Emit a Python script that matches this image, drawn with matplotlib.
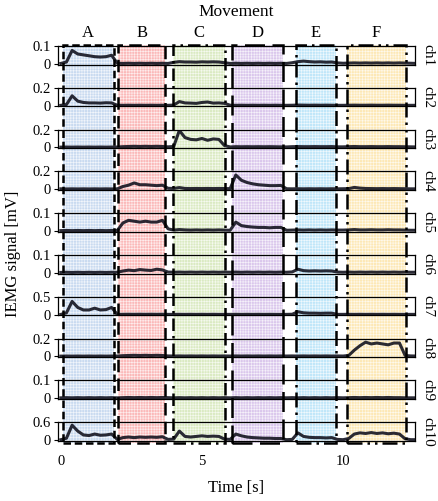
import numpy as np
import matplotlib.pyplot as plt
from matplotlib.patches import Rectangle
from matplotlib.transforms import blended_transform_factory

plt.rcParams['font.family'] = ['Liberation Serif', 'DejaVu Serif']
plt.rcParams['hatch.linewidth'] = 0.45

# sampling grid (s)
t = np.round(np.arange(64) * 0.2, 1)

# IEMG per channel (mV)
ch1 = [0.002, 0.01, 0.075, 0.055, 0.05, 0.045, 0.04, 0.038, 0.04, 0.048,
       0.003, 0.002, 0.003, 0.002, 0.003, 0.002, 0.003, 0.002, 0.003, 0.002,
       0.008, 0.012, 0.01, 0.01, 0.009, 0.011, 0.01, 0.011, 0.01, 0.006,
       0.002, 0.003, 0.002, 0.003, 0.002, 0.003, 0.002, 0.003, 0.002, 0.003,
       0.002, 0.006, 0.012, 0.015, 0.012, 0.01, 0.011, 0.009, 0.01, 0.005,
       0.003, 0.004, 0.005, 0.004, 0.005, 0.004, 0.005, 0.004, 0.005, 0.004,
       0.005, 0.004, 0.003, 0.002]
ch2 = [0.003, 0.012, 0.11, 0.05, 0.035, 0.03, 0.03, 0.028, 0.032, 0.03,
       0.004, 0.003, 0.004, 0.003, 0.004, 0.003, 0.004, 0.003, 0.004, 0.003,
       0.006, 0.045, 0.03, 0.028, 0.025, 0.035, 0.04, 0.028, 0.03, 0.025,
       0.004, 0.003, 0.004, 0.003, 0.004, 0.003, 0.004, 0.003, 0.004, 0.003,
       0.003, 0.004, 0.006, 0.005, 0.004, 0.005, 0.004, 0.005, 0.004, 0.003,
       0.003, 0.004, 0.005, 0.004, 0.004, 0.005, 0.004, 0.004, 0.005, 0.004,
       0.004, 0.003, 0.003, 0.003]
ch3 = [0.003, 0.004, 0.003, 0.004, 0.003, 0.004, 0.003, 0.004, 0.003, 0.004,
       0.004, 0.008, 0.01, 0.012, 0.01, 0.012, 0.01, 0.012, 0.01, 0.006,
       0.01, 0.19, 0.11, 0.09, 0.085, 0.1, 0.08, 0.095, 0.09, 0.02,
       0.005, 0.008, 0.007, 0.008, 0.007, 0.008, 0.007, 0.008, 0.007, 0.006,
       0.005, 0.008, 0.009, 0.008, 0.008, 0.009, 0.008, 0.008, 0.009, 0.006,
       0.006, 0.008, 0.01, 0.008, 0.008, 0.009, 0.008, 0.008, 0.009, 0.008,
       0.008, 0.007, 0.006, 0.005]
ch4 = [0.004, 0.003, 0.004, 0.003, 0.004, 0.003, 0.004, 0.003, 0.004, 0.003,
       0.004, 0.03, 0.045, 0.07, 0.05, 0.05, 0.045, 0.04, 0.045, 0.01,
       0.008, 0.018, 0.008, 0.007, 0.008, 0.007, 0.008, 0.007, 0.008, 0.007,
       0.006, 0.16, 0.1, 0.075, 0.06, 0.05, 0.045, 0.04, 0.04, 0.042,
       0.005, 0.004, 0.005, 0.004, 0.005, 0.004, 0.005, 0.004, 0.005, 0.004,
       0.005, 0.006, 0.02, 0.012, 0.008, 0.007, 0.006, 0.007, 0.006, 0.007,
       0.006, 0.005, 0.004, 0.004]
ch5 = [0.002, 0.003, 0.002, 0.003, 0.002, 0.003, 0.002, 0.003, 0.002, 0.003,
       0.003, 0.045, 0.06, 0.055, 0.05, 0.055, 0.05, 0.05, 0.06, 0.012,
       0.005, 0.008, 0.006, 0.005, 0.006, 0.005, 0.006, 0.005, 0.006, 0.005,
       0.004, 0.05, 0.03, 0.025, 0.022, 0.02, 0.02, 0.018, 0.02, 0.02,
       0.004, 0.005, 0.006, 0.005, 0.006, 0.005, 0.006, 0.005, 0.006, 0.005,
       0.005, 0.006, 0.008, 0.006, 0.006, 0.007, 0.006, 0.006, 0.007, 0.006,
       0.006, 0.005, 0.004, 0.004]
ch6 = [0.002, 0.003, 0.002, 0.003, 0.002, 0.003, 0.002, 0.003, 0.002, 0.003,
       0.003, 0.01, 0.015, 0.012, 0.018, 0.015, 0.013, 0.02, 0.016, 0.004,
       0.003, 0.004, 0.003, 0.004, 0.003, 0.004, 0.003, 0.004, 0.003, 0.004,
       0.003, 0.004, 0.003, 0.004, 0.003, 0.004, 0.003, 0.004, 0.003, 0.004,
       0.003, 0.005, 0.02, 0.012, 0.01, 0.011, 0.01, 0.011, 0.01, 0.004,
       0.003, 0.004, 0.003, 0.004, 0.003, 0.004, 0.003, 0.004, 0.003, 0.004,
       0.003, 0.004, 0.003, 0.003]
ch7 = [0.005, 0.05, 0.37, 0.2, 0.13, 0.13, 0.18, 0.13, 0.14, 0.2,
       0.006, 0.008, 0.01, 0.008, 0.01, 0.008, 0.01, 0.008, 0.01, 0.006,
       0.006, 0.008, 0.006, 0.008, 0.006, 0.008, 0.006, 0.008, 0.006, 0.006,
       0.006, 0.008, 0.006, 0.008, 0.006, 0.008, 0.006, 0.008, 0.006, 0.006,
       0.006, 0.01, 0.08, 0.05, 0.04, 0.04, 0.035, 0.04, 0.04, 0.006,
       0.006, 0.008, 0.006, 0.008, 0.006, 0.008, 0.006, 0.008, 0.006, 0.008,
       0.006, 0.006, 0.006, 0.006]
ch8 = [0.003, 0.004, 0.003, 0.004, 0.003, 0.004, 0.003, 0.004, 0.003, 0.004,
       0.004, 0.008, 0.01, 0.012, 0.01, 0.012, 0.01, 0.012, 0.01, 0.005,
       0.004, 0.005, 0.004, 0.005, 0.004, 0.005, 0.004, 0.005, 0.004, 0.005,
       0.004, 0.005, 0.004, 0.005, 0.004, 0.005, 0.004, 0.005, 0.004, 0.005,
       0.004, 0.005, 0.004, 0.005, 0.004, 0.005, 0.004, 0.005, 0.004, 0.005,
       0.004, 0.01, 0.07, 0.12, 0.16, 0.14, 0.15, 0.14, 0.13, 0.15,
       0.15, 0.01, 0.005, 0.004]
ch9 = [0.002, 0.003, 0.002, 0.003, 0.002, 0.003, 0.002, 0.003, 0.002, 0.003,
       0.002, 0.003, 0.004, 0.003, 0.004, 0.003, 0.004, 0.003, 0.004, 0.003,
       0.002, 0.003, 0.002, 0.003, 0.002, 0.003, 0.002, 0.003, 0.002, 0.003,
       0.002, 0.003, 0.002, 0.003, 0.002, 0.003, 0.002, 0.003, 0.002, 0.003,
       0.002, 0.003, 0.002, 0.003, 0.002, 0.003, 0.002, 0.003, 0.002, 0.003,
       0.002, 0.003, 0.004, 0.003, 0.004, 0.003, 0.004, 0.003, 0.004, 0.003,
       0.003, 0.002, 0.002, 0.002]
ch10 = [0.01, 0.06, 0.5, 0.3, 0.17, 0.15, 0.2, 0.16, 0.17, 0.2,
        0.02, 0.08, 0.1, 0.08, 0.1, 0.09, 0.1, 0.09, 0.11, 0.02,
        0.03, 0.3, 0.12, 0.1, 0.12, 0.14, 0.12, 0.13, 0.12, 0.03,
        0.02, 0.2, 0.14, 0.1, 0.08, 0.07, 0.06, 0.06, 0.05, 0.05,
        0.01, 0.02, 0.24, 0.12, 0.09, 0.08, 0.08, 0.07, 0.08, 0.02,
        0.01, 0.05, 0.2, 0.24, 0.22, 0.25, 0.22, 0.24, 0.21, 0.23,
        0.2, 0.04, 0.01, 0.01]

channels = [ch1, ch2, ch3, ch4, ch5, ch6, ch7, ch8, ch9, ch10]
ch_names = ['ch%d' % (i + 1) for i in range(10)]
ch_max = [0.1, 0.2, 0.2, 0.2, 0.1, 0.1, 0.5, 0.2, 0.1, 0.6]

# movements: label, start, end (s)
mov_labels = ['A', 'B', 'C', 'D', 'E', 'F']
mov_start = [0.07, 2.04, 3.98, 6.05, 8.32, 10.15]
mov_end = [1.88, 3.69, 5.82, 7.88, 9.75, 12.23]
mov_colors = ['#c9daf0', '#fbb9b9', '#daeac2', '#dac7ec', '#bfe6f9', '#fde8b5']
mov_styles = [(0, (3, 1.5)), (0, (5, 2.5)), (0, (5, 2, 1, 2)),
              (0, (8, 3)), (0, (6, 2, 1, 2)), (0, (6, 2, 1, 2, 1, 2))]

W, H = 438, 501
x0, x1 = -0.1, 12.55
fig = plt.figure(figsize=(W / 100, H / 100), dpi=100)

# shaded movement regions behind everything
top_px, bot_px = 45, 443
bg = fig.add_axes([58 / W, 1 - bot_px / H, 357 / W, (bot_px - top_px) / H], zorder=0)
bg.set_xlim(x0, x1)
bg.set_ylim(0, 1)
bg.axis('off')
for s, e, c in zip(mov_start, mov_end, mov_colors):
    bg.axvspan(s, e, facecolor=c, edgecolor='#ffffffc0', hatch='++++++', lw=0)

pitch = 41.8
axh = 18.5
for k, (y, m, name) in enumerate(zip(channels, ch_max, ch_names)):
    top = 46 + k * pitch
    ax = fig.add_axes([58 / W, 1 - (top + axh) / H, 357 / W, axh / H], zorder=1)
    ax.patch.set_alpha(0)
    ax.plot(t, y, color='#141420', lw=2.2, alpha=0.9)
    ax.set_xlim(x0, x1)
    ax.set_ylim(-0.04 * m, m)
    ax.set_yticks([0, m])
    ax.set_yticklabels(['0', str(m)])
    ax.tick_params(axis='y', direction='out', length=3, labelsize=10.5, pad=2)
    ax.tick_params(axis='x', direction='in', length=0, labelsize=10.5, pad=10)
    for sp in ax.spines.values():
        sp.set_linewidth(0.9)
    if k < 9:
        ax.set_xticks([])
    else:
        ax.set_xticks([0, 5, 10])
        ax.set_xlabel('Time [s]', fontsize=12, labelpad=9)
    ax.text(1.018, 0.5, name, transform=ax.transAxes, rotation=270,
            ha='left', va='center', fontsize=11)

# dash-dot outlines and labels on top
ov = fig.add_axes([58 / W, 1 - bot_px / H, 357 / W, (bot_px - top_px) / H], zorder=2)
ov.set_xlim(x0, x1)
ov.set_ylim(0, 1)
ov.axis('off')
ov.patch.set_alpha(0)
for s, e, ls in zip(mov_start, mov_end, mov_styles):
    ov.add_patch(Rectangle((s, 0.0), e - s, 1.0, fill=False, edgecolor='black',
                           lw=1.8, linestyle=ls, clip_on=False))
tr = blended_transform_factory(ov.transData, ov.transAxes)
for lab, s, e in zip(mov_labels, mov_start, mov_end):
    ov.text((s + e) / 2, 1.0 + 12 / (bot_px - top_px), lab, transform=tr,
            ha='center', va='center', fontsize=12)

fig.text(236 / W, 1 - 12 / H, 'Movement', ha='center', va='center', fontsize=12.5)
fig.text(13 / W, 1 - 254 / H, 'IEMG signal [mV]', rotation=90,
         ha='center', va='center', fontsize=12)

fig.savefig('out.png', dpi=100)
